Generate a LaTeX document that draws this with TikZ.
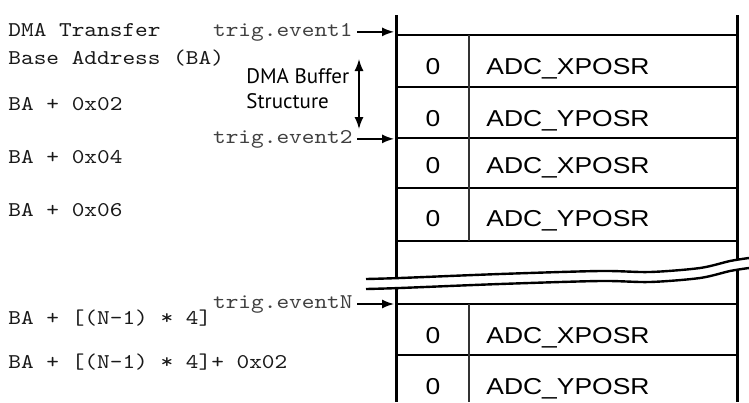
\documentclass[tikz,border=0pt]{standalone}
\usepackage{fontspec}
\newfontfamily\addrfont[FakeStretch=1.15]{lmmono10-regular.otf}
\newfontfamily\cellfont[FakeStretch=1.15]{Liberation Sans}
\newfontfamily\notefont{PT Sans}
\usetikzlibrary{arrows.meta}

\begin{document}
\begin{tikzpicture}[
    x=0.5pt, y=-0.5pt,
    addr/.style={anchor=base west, inner sep=0pt, text=black!90, font=\addrfont\fontsize{10.5}{12}\selectfont},
    trig/.style={anchor=base east, inner sep=0pt, text=black!75, font=\addrfont\fontsize{10.5}{12}\selectfont},
    zero/.style={anchor=base, inner sep=0pt, font=\cellfont\fontsize{11.5}{13}\selectfont},
    reg/.style={anchor=base west, inner sep=0pt, font=\cellfont\fontsize{11.5}{13}\selectfont},
    note/.style={anchor=north west, inner sep=0pt, align=left, font=\notefont\fontsize{10.5}{12.5}\selectfont},
    border/.style={line width=1.5pt},
    rowline/.style={line width=1pt},
    divider/.style={line width=0.75pt, black!80},
    wave/.style={line width=1.2pt},
    flow/.style={-{Latex[length=6pt, width=4.5pt]}, line width=0.75pt},
    twoway/.style={{Latex[length=6pt, width=4.5pt]}-{Latex[length=6pt, width=4.5pt]}, line width=0.75pt}
]
\useasboundingbox (0,0) rectangle (749,402);

\node[addr] (hdr1) at (8,36) {DMA Transfer};
\node[addr] (hdr2) at (8,64) {Base Address (BA)};
\node[addr] (off2) at (8,110) {BA + 0x02};
\node[addr] (off4) at (8,163) {BA + 0x04};
\node[addr] (off6) at (8,216) {BA + 0x06};
\node[addr] (offN) at (8,324) {BA + [(N-1) * 4]};
\node[addr] (offN2) at (8,368) {BA + [(N-1) * 4]+ 0x02};

\node[trig] (ev1) at (353,36) {trig.event1};
\node[trig] (ev2) at (353,143) {trig.event2};
\node[trig] (evN) at (353,308) {trig.eventN};

\node[note] (buf) at (246,68) {DMA Buffer\\Structure};
\coordinate (bufTop) at (359,59);
\coordinate (bufBot) at (359,129);
\draw[twoway] (bufTop) -- (bufBot);

\coordinate (tblL) at (396,15);
\coordinate (tblR) at (737,15);
\coordinate (tblDiv) at (469,35);

\foreach \y in {35,87,138,188,241,304,355}
    \draw[rowline] (tblL |- 0,\y) -- (tblR |- 0,\y);
\draw[divider] (tblDiv) -- (tblDiv |- 0,241);
\draw[divider] (tblDiv |- 0,304) -- (tblDiv |- 0,402);
\draw[border] (tblL) -- (tblL |- 0,402);
\draw[border] (tblR) -- (tblR |- 0,402);

\foreach \b/\ax/\n in {74/X/1, 126/Y/2, 173/X/3, 226/Y/4, 343/X/5, 394/Y/6} {
    \node[zero] (zero\n) at (433,\b) {0};
    \node[reg] (reg\n) at (486,\b) {ADC\_\ax POSR};
}

\draw[flow, shorten <=2pt, shorten >=1pt] (ev1.east) -- (ev1.east -| tblL);
\draw[flow, shorten <=2pt, shorten >=1pt] (ev2.east) -- (ev2.east -| tblL);
\draw[flow, shorten <=2pt, shorten >=1pt] (evN.east) -- (evN.east -| tblL);

\fill[white] plot[smooth] coordinates {(366,279) (400,278) (500,274) (600,271) (650,272) (700,268) (730,261) (749,258)}
    -- plot[smooth] coordinates {(749,268) (730,271) (700,278) (650,282) (600,281) (500,284) (400,288) (366,289)} -- cycle;
\draw[wave] plot[smooth] coordinates {(366,279) (400,278) (500,274) (600,271) (650,272) (700,268) (730,261) (749,258)};
\draw[wave] plot[smooth] coordinates {(366,289) (400,288) (500,284) (600,281) (650,282) (700,278) (730,271) (749,268)};
\end{tikzpicture}
\end{document}
